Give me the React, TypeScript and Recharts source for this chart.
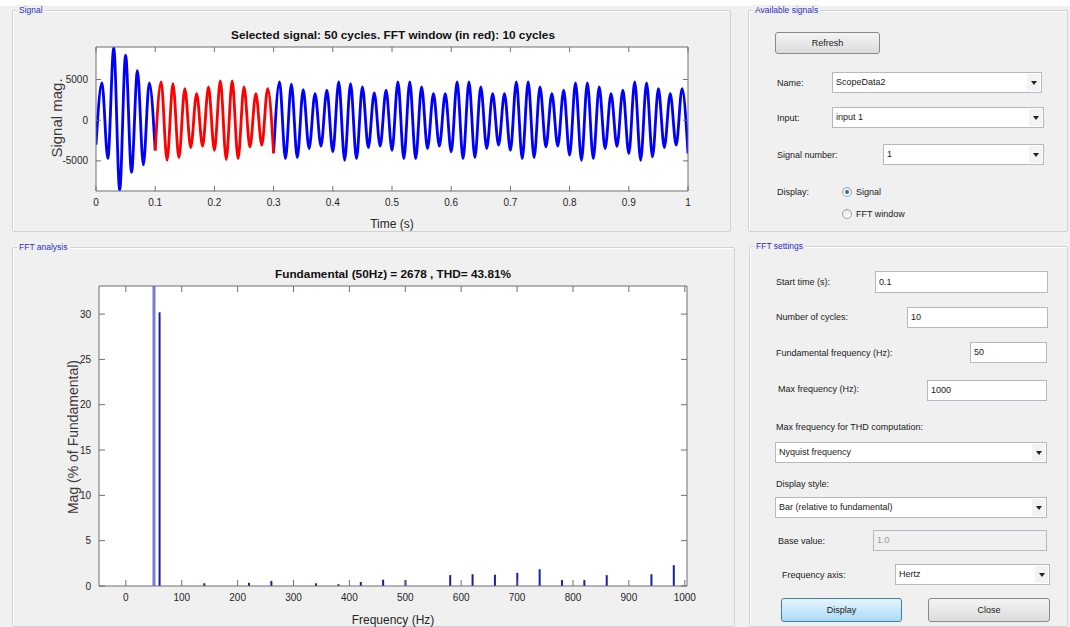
import React from 'react';
import { LineChart, Line, BarChart, Bar, XAxis, YAxis } from 'recharts';

// ---- signal (time domain) ----
const timeTicks = [0, 0.1, 0.2, 0.3, 0.4, 0.5, 0.6, 0.7, 0.8, 0.9, 1];
const signalTicks = [-5000, 0, 5000];
const signalStart = -3000;
// one peak and one trough per 50 Hz cycle (50 cycles)
const peakValues = [
    4600, 8900, 8000, 6100, 4600,
    4710, 4510, 3890, 3280, 4100,
    4830, 4830, 4100, 3280, 3890,
    4710, 4420, 3770, 3280, 3690,
    4710, 4510, 4100, 3360, 3690,
    4710, 4710, 4100, 3280, 3280,
    4710, 4710, 4100, 3280, 3280,
    4710, 4710, 4100, 3280, 3690,
    4590, 4590, 4100, 3280, 3690,
    4710, 4590, 3890, 3280, 3890
];
const troughValues = [
    -4700, -8600, -6400, -5500, -3700,
    -4920, -4590, -3360, -3190, -3690,
    -4830, -4710, -3280, -3070, -4060,
    -4710, -4590, -3480, -3190, -3890,
    -4920, -4710, -3360, -3190, -3690,
    -4710, -4710, -3480, -3190, -3890,
    -4710, -4590, -3480, -3070, -3690,
    -4710, -4590, -3280, -3190, -4300,
    -4920, -4710, -3480, -3200, -4100,
    -4920, -4510, -3360, -3070, -4100
];
const windowStart = 0.1;
const windowEnd = 0.3;

// ---- FFT bars (% of fundamental) ----
const harmonicFreqs = [50, 60, 140, 220, 260, 340, 380, 420, 460, 500, 580, 620, 660, 700, 740, 780, 820, 860, 940, 980];
const harmonicMags = [100, 30.2, 0.3, 0.35, 0.55, 0.3, 0.2, 0.45, 0.7, 0.65, 1.2, 1.3, 1.25, 1.45, 1.85, 0.65, 0.65, 1.2, 1.3, 2.3];
const freqTicks = [0, 100, 200, 300, 400, 500, 600, 700, 800, 900, 1000];
const magTicks = [0, 5, 10, 15, 20, 25, 30];

const signalData: { t: number; blue: number | null; red: number | null }[] = [];
const pushPoint = (t: number, v: number) => {
    signalData.push({
        t,
        blue: t <= windowStart || t >= windowEnd ? v : null,
        red: t >= windowStart && t <= windowEnd ? v : null
    });
};
pushPoint(0, signalStart);
peakValues.forEach((p, k) => {
    pushPoint((2 * k + 1) / 100, p);
    pushPoint((k + 1) / 50, troughValues[k]);
});

const fftData = harmonicFreqs.map((f, i) => ({ f, mag: harmonicMags[i] }));

const FONT = '"Liberation Sans", Arial, Helvetica, sans-serif';
const AXIS = '#6f6f6f';
const INK = '#262626';
const GROUP_BLUE = '#2d2dc8';

const HarmonicBar = (props: any) => {
    const { x, y, width, height, payload } = props;
    const fundamental = payload.f === 50;
    const w = fundamental ? 3 : 2;
    const cx = x + width / 2;
    return (
        <rect
            x={cx - w / 2}
            y={y}
            width={w}
            height={Math.max(height, 0)}
            fill={fundamental ? '#7a7ad8' : '#1c1ca6'}
        />
    );
};

// empty label so mirrored axes only draw their inward tick marks
const NoLabel = () => <g />;

const tickStyle = { fontSize: 10, fill: INK, fontFamily: FONT };

const GroupBox = ({ x, y, w, h, title }: { x: number; y: number; w: number; h: number; title: string }) => (
    <div style={{ position: 'absolute', left: x, top: y, width: w, height: h, border: '1px solid #d2d2d2', boxShadow: 'inset 1px 1px 0 #ffffff', borderRadius: 2 }}>
        <span style={{ position: 'absolute', left: 4, top: -6, padding: '0 2px', background: '#f0f0f0', color: GROUP_BLUE, fontSize: 8.5, lineHeight: '10px', fontFamily: FONT, whiteSpace: 'nowrap' }}>
            {title}
        </span>
    </div>
);

const Txt = ({ x, y, children, color = '#1a1a1a' }: { x: number; y: number; children: React.ReactNode; color?: string }) => (
    <div style={{ position: 'absolute', left: x, top: y - 6, height: 12, lineHeight: '12px', fontSize: 9, fontFamily: FONT, color, whiteSpace: 'nowrap' }}>
        {children}
    </div>
);

const TextBox = ({ x, y, w, h, value, disabled = false }: { x: number; y: number; w: number; h: number; value: string; disabled?: boolean }) => (
    <div style={{ position: 'absolute', left: x, top: y, width: w, height: h, boxSizing: 'border-box', border: '1px solid #b5b8c0', background: disabled ? '#f0f0f0' : '#ffffff', fontSize: 9, fontFamily: FONT, color: disabled ? '#9a9a9a' : '#1a1a1a', lineHeight: `${h - 2}px`, paddingLeft: 3 }}>
        {value}
    </div>
);

const Dropdown = ({ x, y, w, h, value }: { x: number; y: number; w: number; h: number; value: string }) => (
    <div style={{ position: 'absolute', left: x, top: y, width: w, height: h, boxSizing: 'border-box', border: '1px solid #b5b8c0', background: '#ffffff', fontSize: 9, fontFamily: FONT, color: '#1a1a1a', lineHeight: `${h - 2}px`, paddingLeft: 3 }}>
        {value}
        <div style={{ position: 'absolute', right: 1, top: 1, width: 13, height: h - 4, background: '#f3f3f3' }}>
            <div style={{ position: 'absolute', left: 4, top: (h - 4) / 2 - 2, width: 0, height: 0, borderLeft: '3px solid transparent', borderRight: '3px solid transparent', borderTop: '4px solid #222' }} />
        </div>
    </div>
);

const Button = ({ x, y, w, h, label, active = false }: { x: number; y: number; w: number; h: number; label: string; active?: boolean }) => (
    <div style={{
        position: 'absolute', left: x, top: y, width: w, height: h, boxSizing: 'border-box', borderRadius: 3,
        border: active ? '1px solid #3c7fb1' : '1px solid #8a8a8a',
        background: active ? 'linear-gradient(#e8f5fd, #a9dbf6)' : 'linear-gradient(#f4f4f4, #dcdcdc)',
        fontSize: 9, fontFamily: FONT, color: '#1a1a1a', textAlign: 'center', lineHeight: `${h - 2}px`
    }}>
        {label}
    </div>
);

const Radio = ({ x, y, checked }: { x: number; y: number; checked: boolean }) => (
    <div style={{ position: 'absolute', left: x - 5, top: y - 5, width: 10, height: 10, boxSizing: 'border-box', borderRadius: '50%', border: '1px solid #a0a0a0', background: 'linear-gradient(#e6e6e6, #ffffff)' }}>
        {checked && <div style={{ position: 'absolute', left: 2, top: 2, width: 4, height: 4, borderRadius: '50%', background: '#2a6fb8' }} />}
    </div>
);

export default function App() {
    return (
        <div style={{ position: 'absolute', left: 0, top: 0, width: 1070, height: 627, background: '#f0f0f0', overflow: 'hidden', fontFamily: FONT }}>
            <div style={{ position: 'absolute', left: 0, top: 0, width: 1070, height: 6, background: '#ffffff' }} />

            <GroupBox x={12} y={10} w={717} h={220} title="Signal" />
            <GroupBox x={12} y={247} w={721} h={378} title="FFT analysis" />
            <GroupBox x={748} y={10} w={318} h={220} title="Available signals" />
            <GroupBox x={749} y={246} w={317} h={379} title="FFT settings" />

            {/* plot backgrounds */}
            <div style={{ position: 'absolute', left: 96, top: 47, width: 592, height: 144, background: '#ffffff' }} />
            <div style={{ position: 'absolute', left: 99, top: 286, width: 588, height: 300, background: '#ffffff' }} />

            {/* Signal chart */}
            <div style={{ position: 'absolute', left: 0, top: 0 }}>
                <LineChart width={700} height={235} data={signalData} margin={{ top: 47, right: 12, bottom: 14, left: 36 }}>
                    <XAxis xAxisId="main" type="number" dataKey="t" domain={[0, 1]} ticks={timeTicks} interval={0} allowDataOverflow
                        tickLine={false} tickSize={6} axisLine={{ stroke: AXIS }} tick={tickStyle} />
                    <XAxis xAxisId="inb" type="number" dataKey="t" domain={[0, 1]} ticks={timeTicks} interval={0} allowDataOverflow
                        mirror tick={NoLabel} axisLine={false} tickSize={5} tickLine={{ stroke: AXIS }} />
                    <XAxis xAxisId="top" orientation="top" type="number" dataKey="t" domain={[0, 1]} ticks={timeTicks} interval={0} allowDataOverflow
                        mirror tick={NoLabel} axisLine={{ stroke: AXIS }} tickSize={5} tickLine={{ stroke: AXIS }} />
                    <YAxis yAxisId="main" type="number" domain={[-8700, 9000]} ticks={signalTicks} interval={0} allowDataOverflow width={60}
                        tickLine={false} tickSize={6} axisLine={{ stroke: AXIS }} tick={tickStyle} />
                    <YAxis yAxisId="inl" type="number" domain={[-8700, 9000]} ticks={signalTicks} interval={0} allowDataOverflow
                        mirror tick={NoLabel} axisLine={false} tickSize={5} tickLine={{ stroke: AXIS }} />
                    <YAxis yAxisId="right" orientation="right" type="number" domain={[-8700, 9000]} ticks={signalTicks} interval={0} allowDataOverflow
                        mirror tick={NoLabel} axisLine={{ stroke: AXIS }} tickSize={5} tickLine={{ stroke: AXIS }} />
                    <Line xAxisId="main" yAxisId="main" type="monotone" dataKey="blue" stroke="#0000ff" strokeWidth={2.8}
                        dot={false} connectNulls={false} isAnimationActive={false} />
                    <Line xAxisId="main" yAxisId="main" type="monotone" dataKey="red" stroke="#ff0000" strokeWidth={2.8}
                        dot={false} connectNulls={false} isAnimationActive={false} />
                </LineChart>
            </div>

            {/* FFT chart */}
            <div style={{ position: 'absolute', left: 0, top: 240 }}>
                <BarChart width={700} height={385} data={fftData} margin={{ top: 46, right: 13, bottom: 9, left: 39 }}>
                    <XAxis xAxisId="main" type="number" dataKey="f" domain={[-48, 1004]} ticks={freqTicks} interval={0} allowDataOverflow
                        tickLine={false} tickSize={6} axisLine={{ stroke: AXIS }} tick={tickStyle} />
                    <XAxis xAxisId="inb" type="number" dataKey="f" domain={[-48, 1004]} ticks={freqTicks} interval={0} allowDataOverflow
                        mirror tick={NoLabel} axisLine={false} tickSize={6} tickLine={{ stroke: AXIS }} />
                    <XAxis xAxisId="top" orientation="top" type="number" dataKey="f" domain={[-48, 1004]} ticks={freqTicks} interval={0} allowDataOverflow
                        mirror tick={NoLabel} axisLine={{ stroke: AXIS }} tickSize={6} tickLine={{ stroke: AXIS }} />
                    <YAxis yAxisId="main" type="number" domain={[0, 33.1]} ticks={magTicks} interval={0} allowDataOverflow width={60}
                        tickLine={false} tickSize={6} axisLine={{ stroke: AXIS }} tick={tickStyle} />
                    <YAxis yAxisId="inl" type="number" domain={[0, 33.1]} ticks={magTicks} interval={0} allowDataOverflow
                        mirror tick={NoLabel} axisLine={false} tickSize={6} tickLine={{ stroke: AXIS }} />
                    <YAxis yAxisId="right" orientation="right" type="number" domain={[0, 33.1]} ticks={magTicks} interval={0} allowDataOverflow
                        mirror tick={NoLabel} axisLine={{ stroke: AXIS }} tickSize={6} tickLine={{ stroke: AXIS }} />
                    <Bar xAxisId="main" yAxisId="main" dataKey="mag" barSize={2} shape={HarmonicBar} isAnimationActive={false} />
                </BarChart>
            </div>

            {/* chart titles and axis labels */}
            <svg width={740} height={627} style={{ position: 'absolute', left: 0, top: 0, pointerEvents: 'none' }}>
                <text x={393} y={39} textAnchor="middle" fontFamily={FONT} fontSize={11.5} fontWeight="bold" fill="#111"
                    textLength={324} lengthAdjust="spacingAndGlyphs">
                    Selected signal: 50 cycles. FFT window (in red): 10 cycles
                </text>
                <text x={392} y={228} textAnchor="middle" fontFamily={FONT} fontSize={12} fill={INK}>Time (s)</text>
                <text x={62} y={118} textAnchor="middle" fontFamily={FONT} fontSize={15} fill="#3a3a3a" transform="rotate(-90 62 118)">Signal mag.</text>

                <text x={393} y={278} textAnchor="middle" fontFamily={FONT} fontSize={11.5} fontWeight="bold" fill="#111"
                    textLength={236} lengthAdjust="spacingAndGlyphs">
                    Fundamental (50Hz) = 2678 , THD= 43.81%
                </text>
                <text x={393} y={624} textAnchor="middle" fontFamily={FONT} fontSize={12} fill={INK}>Frequency (Hz)</text>
                <text x={78} y={437} textAnchor="middle" fontFamily={FONT} fontSize={14} fill="#3a3a3a" transform="rotate(-90 78 437)">Mag (% of Fundamental)</text>
            </svg>

            {/* Available signals */}
            <Button x={775} y={32} w={105} h={22} label="Refresh" />
            <Txt x={777} y={83}>Name:</Txt>
            <Dropdown x={832} y={72} w={210} h={21} value="ScopeData2" />
            <Txt x={777} y={118}>Input:</Txt>
            <Dropdown x={832} y={107} w={212} h={21} value="input 1" />
            <Txt x={777} y={155}>Signal number:</Txt>
            <Dropdown x={883} y={144} w={161} h={21} value="1" />
            <Txt x={777} y={192}>Display:</Txt>
            <Radio x={847} y={192} checked />
            <Txt x={856} y={192}>Signal</Txt>
            <Radio x={847} y={214} checked={false} />
            <Txt x={856} y={214}>FFT window</Txt>

            {/* FFT settings */}
            <Txt x={776} y={282}>Start time (s):</Txt>
            <TextBox x={875} y={271} w={173} h={22} value="0.1" />
            <Txt x={776} y={317}>Number of cycles:</Txt>
            <TextBox x={907} y={307} w={141} h={21} value="10" />
            <Txt x={776} y={353}>Fundamental frequency (Hz):</Txt>
            <TextBox x={970} y={342} w={77} h={21} value="50" />
            <Txt x={778} y={389}>Max frequency (Hz):</Txt>
            <TextBox x={927} y={380} w={120} h={21} value="1000" />
            <Txt x={776} y={427}>Max frequency for THD computation:</Txt>
            <Dropdown x={775} y={442} w={272} h={21} value="Nyquist frequency" />
            <Txt x={776} y={484}>Display style:</Txt>
            <Dropdown x={775} y={497} w={272} h={21} value="Bar (relative to fundamental)" />
            <Txt x={778} y={541}>Base value:</Txt>
            <TextBox x={873} y={530} w={174} h={21} value="1.0" disabled />
            <Txt x={782} y={575}>Frequency axis:</Txt>
            <Dropdown x={895} y={564} w={155} h={21} value="Hertz" />
            <Button x={781} y={598} w={121} h={24} label="Display" active />
            <Button x={928} y={598} w={122} h={24} label="Close" />
        </div>
    );
}
